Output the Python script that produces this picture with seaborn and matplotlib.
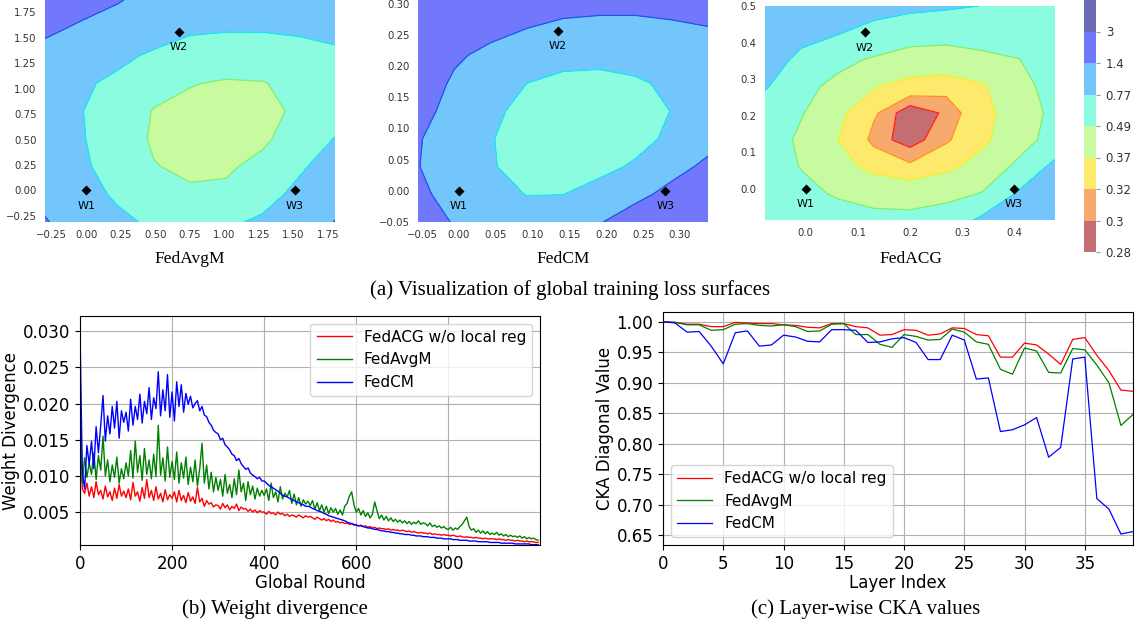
import numpy as np
import matplotlib
matplotlib.use("Agg")
import matplotlib.pyplot as plt
import seaborn as sns

# ---------------- data ----------------
loss_levels = [0.28, 0.30, 0.32, 0.37, 0.49, 0.77, 1.4, 3.0, 10.0]
level_labels = ["0.28", "0.3", "0.32", "0.37", "0.49", "0.77", "1.4", "3"]

# FedAvgM loss surface (rows: y from bottom to top, cols: x from left to right)
avgm_xrange = [-0.30, 1.80]
avgm_yrange = [-0.31, 1.87]
avgm_loss = [
    [1.45, 1.05, 0.84, 0.72, 0.62, 0.72, 0.82, 1.05, 1.42],
    [1.20, 0.90, 0.72, 0.57, 0.52, 0.53, 0.65, 0.85, 1.10],
    [1.05, 0.81, 0.67, 0.50, 0.45, 0.46, 0.55, 0.72, 0.92],
    [0.98, 0.79, 0.63, 0.46, 0.41, 0.40, 0.45, 0.60, 0.78],
    [0.95, 0.78, 0.62, 0.48, 0.44, 0.42, 0.44, 0.52, 0.62],
    [0.98, 0.82, 0.70, 0.57, 0.50, 0.47, 0.48, 0.55, 0.64],
    [1.15, 1.00, 0.85, 0.72, 0.64, 0.61, 0.62, 0.66, 0.72],
    [1.56, 1.30, 1.10, 0.95, 0.82, 0.80, 0.80, 0.82, 0.85],
    [2.00, 1.70, 1.45, 1.16, 1.05, 1.00, 0.98, 0.98, 1.00],
]
avgm_wx = [0.0, 0.67, 1.51]
avgm_wy = [0.0, 1.56, 0.0]

# FedCM loss surface
cm_xrange = [-0.0554, 0.338]
cm_yrange = [-0.05, 0.306]
cm_loss = [
    [1.80, 1.35, 1.10, 0.95, 1.05, 1.35, 1.80, 2.30, 2.70],
    [1.55, 1.15, 0.90, 0.76, 0.765, 0.92, 1.20, 1.62, 2.00],
    [1.42, 1.05, 0.80, 0.64, 0.60, 0.66, 0.82, 1.15, 1.55],
    [1.45, 1.05, 0.79, 0.62, 0.56, 0.56, 0.64, 0.85, 1.15],
    [1.65, 1.15, 0.85, 0.66, 0.58, 0.56, 0.60, 0.78, 0.95],
    [1.80, 1.30, 0.95, 0.77, 0.66, 0.64, 0.72, 0.84, 0.96],
    [2.00, 1.50, 1.23, 1.00, 0.92, 0.90, 0.92, 0.98, 1.08],
    [2.20, 1.85, 1.60, 1.41, 1.25, 1.20, 1.20, 1.28, 1.38],
    [2.60, 2.30, 2.00, 1.80, 1.70, 1.65, 1.65, 1.70, 1.80],
]
cm_wx = [0.0, 0.134, 0.280]
cm_wy = [0.0, 0.257, 0.0]

# FedACG loss surface
acg_xrange = [-0.078, 0.477]
acg_yrange = [-0.085, 0.50]
acg_loss = [
    [0.753, 0.649, 0.578, 0.541, 0.537, 0.580, 0.830, 1.000, 1.200],
    [0.654, 0.544, 0.467, 0.424, 0.414, 0.438, 0.496, 0.800, 1.050],
    [0.597, 0.481, 0.398, 0.349, 0.325, 0.351, 0.403, 0.520, 0.850],
    [0.582, 0.460, 0.371, 0.310, 0.290, 0.315, 0.352, 0.431, 0.545],
    [0.609, 0.500, 0.386, 0.325, 0.285, 0.304, 0.343, 0.417, 0.524],
    [0.800, 0.544, 0.443, 0.376, 0.340, 0.330, 0.360, 0.443, 0.544],
    [1.000, 0.660, 0.542, 0.469, 0.429, 0.423, 0.451, 0.485, 0.608],
    [1.100, 0.920, 0.790, 0.660, 0.558, 0.546, 0.568, 0.624, 0.713],
    [1.250, 1.100, 0.980, 0.900, 0.850, 0.810, 0.765, 0.720, 0.700],
]
acg_wx = [0.0, 0.113, 0.398]
acg_wy = [0.0, 0.428, 0.0]

w_labels = ["W1", "W2", "W3"]

# Weight divergence, sampled every 5 global rounds
rounds = list(range(0, 1000, 5))
wd_fedacg = [
    0.0215, 0.0082, 0.0076, 0.0090, 0.0072, 0.0085, 0.0070, 0.0092, 0.0074, 0.0080, 0.0068, 0.0086, 0.0071, 0.0078, 0.0066, 0.0083, 0.0069, 0.0088, 0.0072, 0.0079,
    0.0070, 0.0082, 0.0067, 0.0091, 0.0072, 0.0078, 0.0065, 0.0084, 0.0069, 0.0095, 0.0070, 0.0080, 0.0066, 0.0085, 0.0068, 0.0076, 0.0064, 0.0081, 0.0067, 0.0074,
    0.0069, 0.0078, 0.0064, 0.0080, 0.0066, 0.0073, 0.0063, 0.0077, 0.0065, 0.0071, 0.0062, 0.0084, 0.0064, 0.0069, 0.0058, 0.0066, 0.0061, 0.0063, 0.0057, 0.0060,
    0.0059, 0.0054, 0.0062, 0.0056, 0.0060, 0.0053, 0.0058, 0.0055, 0.0061, 0.0052, 0.0057, 0.0054, 0.0055, 0.0051, 0.0054, 0.0050, 0.0053, 0.0049, 0.0052, 0.0050,
    0.0050, 0.0047, 0.0051, 0.0048, 0.0049, 0.0046, 0.0050, 0.0047, 0.0048, 0.0045, 0.0047, 0.0044, 0.0046, 0.0045, 0.0043, 0.0046, 0.0044, 0.0042, 0.0045, 0.0043,
    0.0044, 0.0042, 0.0040, 0.0043, 0.0041, 0.0039, 0.0041, 0.0038, 0.0040, 0.0037, 0.0039, 0.0036, 0.0037, 0.0035, 0.0036, 0.0034, 0.0035, 0.0033, 0.0034, 0.0032,
    0.0032, 0.0031, 0.0032, 0.0030, 0.0031, 0.0029, 0.0030, 0.0028, 0.0029, 0.0027, 0.0028, 0.0027, 0.0027, 0.0026, 0.0027, 0.0025, 0.0026, 0.0025, 0.0025, 0.0024,
    0.0025, 0.0024, 0.0023, 0.0024, 0.0022, 0.0023, 0.0022, 0.0021, 0.0022, 0.0021, 0.0021, 0.0020, 0.0021, 0.0019, 0.0020, 0.0019, 0.0019, 0.0018, 0.0019, 0.0018,
    0.0018, 0.0017, 0.0018, 0.0017, 0.0016, 0.0017, 0.0016, 0.0015, 0.0016, 0.0015, 0.0015, 0.0014, 0.0015, 0.0014, 0.0014, 0.0013, 0.0014, 0.0013, 0.0013, 0.0013,
    0.0013, 0.0012, 0.0013, 0.0012, 0.0012, 0.0011, 0.0012, 0.0011, 0.0011, 0.0010, 0.0011, 0.0010, 0.0010, 0.0009, 0.0010, 0.0009, 0.0009, 0.0009, 0.0008, 0.0008,
]
wd_fedavgm = [
    0.0200, 0.0090, 0.0125, 0.0098, 0.0118, 0.0102, 0.0132, 0.0095, 0.0128, 0.0108, 0.0155, 0.0100, 0.0122, 0.0092, 0.0115, 0.0098, 0.0126, 0.0090, 0.0110, 0.0096,
    0.0118, 0.0100, 0.0135, 0.0097, 0.0148, 0.0105, 0.0128, 0.0094, 0.0138, 0.0102, 0.0122, 0.0096, 0.0130, 0.0099, 0.0170, 0.0101, 0.0125, 0.0093, 0.0140, 0.0098,
    0.0120, 0.0095, 0.0133, 0.0090, 0.0118, 0.0097, 0.0126, 0.0088, 0.0112, 0.0092, 0.0122, 0.0086, 0.0110, 0.0145, 0.0090, 0.0115, 0.0082, 0.0105, 0.0078, 0.0098,
    0.0080, 0.0095, 0.0072, 0.0102, 0.0076, 0.0088, 0.0070, 0.0096, 0.0074, 0.0108, 0.0078, 0.0090, 0.0066, 0.0092, 0.0074, 0.0086, 0.0068, 0.0083, 0.0072, 0.0080,
    0.0073, 0.0082, 0.0066, 0.0090, 0.0070, 0.0078, 0.0064, 0.0085, 0.0068, 0.0076, 0.0071, 0.0080, 0.0062, 0.0075, 0.0060, 0.0070, 0.0058, 0.0067, 0.0061, 0.0065,
    0.0059, 0.0066, 0.0054, 0.0063, 0.0052, 0.0060, 0.0050, 0.0058, 0.0048, 0.0056, 0.0050, 0.0055, 0.0047, 0.0053, 0.0046, 0.0058, 0.0062, 0.0072, 0.0078, 0.0060,
    0.0050, 0.0055, 0.0046, 0.0052, 0.0044, 0.0049, 0.0042, 0.0047, 0.0064, 0.0052, 0.0041, 0.0046, 0.0039, 0.0044, 0.0038, 0.0042, 0.0037, 0.0040, 0.0036, 0.0039,
    0.0035, 0.0038, 0.0034, 0.0037, 0.0033, 0.0036, 0.0034, 0.0038, 0.0033, 0.0035, 0.0034, 0.0031, 0.0035, 0.0030, 0.0032, 0.0029, 0.0031, 0.0028, 0.0030, 0.0027,
    0.0026, 0.0029, 0.0025, 0.0028, 0.0026, 0.0030, 0.0033, 0.0038, 0.0043, 0.0030, 0.0025, 0.0027, 0.0022, 0.0025, 0.0021, 0.0024, 0.0020, 0.0023, 0.0019, 0.0021,
    0.0019, 0.0022, 0.0018, 0.0020, 0.0017, 0.0019, 0.0016, 0.0018, 0.0016, 0.0017, 0.0015, 0.0017, 0.0014, 0.0016, 0.0013, 0.0015, 0.0013, 0.0014, 0.0012, 0.0011,
]
wd_fedcm = [
    0.0300, 0.0105, 0.0082, 0.0142, 0.0116, 0.0148, 0.0110, 0.0168, 0.0132, 0.0170, 0.0211, 0.0148, 0.0183, 0.0158, 0.0196, 0.0166, 0.0203, 0.0152, 0.0190, 0.0174,
    0.0188, 0.0162, 0.0206, 0.0170, 0.0196, 0.0178, 0.0213, 0.0173, 0.0203, 0.0186, 0.0222, 0.0178, 0.0208, 0.0193, 0.0244, 0.0183, 0.0219, 0.0190, 0.0240, 0.0181,
    0.0216, 0.0176, 0.0230, 0.0196, 0.0226, 0.0188, 0.0214, 0.0199, 0.0210, 0.0194, 0.0200, 0.0204, 0.0190, 0.0196, 0.0184, 0.0182, 0.0174, 0.0170, 0.0163, 0.0160,
    0.0158, 0.0150, 0.0152, 0.0143, 0.0140, 0.0136, 0.0130, 0.0128, 0.0121, 0.0124, 0.0117, 0.0113, 0.0109, 0.0111, 0.0104, 0.0101, 0.0099, 0.0096, 0.0098, 0.0093,
    0.0093, 0.0090, 0.0087, 0.0085, 0.0083, 0.0081, 0.0079, 0.0076, 0.0073, 0.0072, 0.0071, 0.0069, 0.0067, 0.0066, 0.0064, 0.0063, 0.0061, 0.0060, 0.0058, 0.0058,
    0.0057, 0.0055, 0.0054, 0.0052, 0.0051, 0.0050, 0.0048, 0.0047, 0.0045, 0.0044, 0.0043, 0.0042, 0.0041, 0.0040, 0.0039, 0.0038, 0.0036, 0.0035, 0.0034, 0.0033,
    0.0032, 0.0031, 0.0031, 0.0030, 0.0029, 0.0028, 0.0028, 0.0027, 0.0026, 0.0026, 0.0025, 0.0024, 0.0024, 0.0023, 0.0023, 0.0022, 0.0022, 0.0021, 0.0021, 0.0020,
    0.0020, 0.0019, 0.0019, 0.0019, 0.0018, 0.0018, 0.0017, 0.0017, 0.0017, 0.0016, 0.0016, 0.0016, 0.0015, 0.0015, 0.0015, 0.0014, 0.0014, 0.0014, 0.0013, 0.0013,
    0.0013, 0.0013, 0.0012, 0.0012, 0.0012, 0.0011, 0.0011, 0.0011, 0.0011, 0.0010, 0.0010, 0.0010, 0.0010, 0.0009, 0.0009, 0.0009, 0.0009, 0.0009, 0.0008, 0.0008,
    0.0008, 0.0008, 0.0008, 0.0007, 0.0007, 0.0007, 0.0007, 0.0007, 0.0007, 0.0006, 0.0006, 0.0006, 0.0006, 0.0006, 0.0006, 0.0006, 0.0005, 0.0005, 0.0005, 0.0005,
]

# Layer-wise CKA diagonal values
layers = list(range(40))
cka_fedacg = [1.000, 0.999, 0.996, 0.996, 0.992, 0.992, 0.999, 0.998, 0.997, 0.997,
              0.995, 0.994, 0.991, 0.990, 0.997, 0.997, 0.992, 0.990, 0.978, 0.979,
              0.987, 0.986, 0.978, 0.980, 0.990, 0.989, 0.979, 0.977, 0.942, 0.942,
              0.965, 0.962, 0.947, 0.930, 0.971, 0.974, 0.945, 0.920, 0.888, 0.886]
cka_fedavgm = [1.000, 0.999, 0.995, 0.995, 0.986, 0.987, 0.996, 0.997, 0.994, 0.993,
               0.995, 0.992, 0.984, 0.985, 0.996, 0.997, 0.979, 0.979, 0.963, 0.958,
               0.979, 0.976, 0.970, 0.971, 0.988, 0.983, 0.967, 0.963, 0.922, 0.914,
               0.957, 0.952, 0.917, 0.916, 0.956, 0.954, 0.929, 0.900, 0.830, 0.848]
cka_fedcm = [1.000, 0.998, 0.983, 0.984, 0.960, 0.931, 0.982, 0.985, 0.960, 0.962,
             0.978, 0.975, 0.968, 0.967, 0.987, 0.987, 0.986, 0.966, 0.967, 0.972,
             0.974, 0.966, 0.938, 0.938, 0.978, 0.970, 0.906, 0.908, 0.820, 0.823,
             0.831, 0.843, 0.778, 0.794, 0.939, 0.942, 0.710, 0.693, 0.652, 0.656]

series_names = ["FedACG w/o local reg", "FedAvgM", "FedCM"]
series_colors = ["red", "green", "blue"]

# ---------------- styling ----------------
band_colors = ["#c46e72", "#f8a96e", "#fde96c", "#c8fba0",
               "#8cfce0", "#73c6fc", "#7278fc", "#6c6cb4"]
line_colors = ["#ff1a1a", "#ff8c1a", "#f2f22a", "#86ee6a", "#19e6f0", "#1f55e8"]

plt.rcParams["font.family"] = ["DejaVu Sans"]
serif = ["Liberation Serif", "DejaVu Serif"]

W, H = 1136, 625
fig = plt.figure(figsize=(W / 100, H / 100), dpi=100)


def rect(x0, y0, x1, y1):
    return [x0 / W, 1 - y1 / H, (x1 - x0) / W, (y1 - y0) / H]


top_panels = [
    dict(r=rect(45, 0, 335, 222), xr=avgm_xrange, yr=avgm_yrange, z=avgm_loss,
         wx=avgm_wx, wy=avgm_wy, name="FedAvgM", cx=190,
         xt=np.arange(-0.25, 1.80, 0.25), yt=np.arange(-0.25, 1.80, 0.25), fmt="{:.2f}"),
    dict(r=rect(418, 0, 708, 222), xr=cm_xrange, yr=cm_yrange, z=cm_loss,
         wx=cm_wx, wy=cm_wy, name="FedCM", cx=563,
         xt=np.arange(-0.05, 0.31, 0.05), yt=np.arange(-0.05, 0.31, 0.05), fmt="{:.2f}"),
    dict(r=rect(765, 6, 1055, 220), xr=acg_xrange, yr=acg_yrange, z=acg_loss,
         wx=acg_wx, wy=acg_wy, name="FedACG", cx=911,
         xt=np.arange(0.0, 0.41, 0.1), yt=np.arange(0.0, 0.51, 0.1), fmt="{:.1f}"),
]

last_cs = None
for p in top_panels:
    ax = fig.add_axes(p["r"])
    z = np.array(p["z"])
    gx = np.linspace(p["xr"][0], p["xr"][1], z.shape[1])
    gy = np.linspace(p["yr"][0], p["yr"][1], z.shape[0])
    cs = ax.contourf(gx, gy, z, levels=loss_levels, colors=band_colors)
    ax.contour(gx, gy, z, levels=loss_levels[1:7], colors=line_colors, linewidths=0.9)
    last_cs = cs
    sns.scatterplot(x=p["wx"], y=p["wy"], marker="D", color="black", s=26,
                    edgecolor="black", linewidth=0, ax=ax, zorder=5)
    for lx, ly, lab in zip(p["wx"], p["wy"], w_labels):
        ax.annotate(lab, (lx, ly), xytext=(0, -7.5), textcoords="offset points",
                    ha="center", va="top", fontsize=8, color="black")
    ax.set_xlim(p["xr"])
    ax.set_ylim(p["yr"])
    ax.set_xticks(p["xt"])
    ax.set_yticks(p["yt"])
    ax.set_xticklabels([p["fmt"].format(v).replace("-", "\u2212") for v in p["xt"]])
    ax.set_yticklabels([p["fmt"].format(v).replace("-", "\u2212") for v in p["yt"]])
    ax.tick_params(length=0, pad=6, labelsize=7.3, colors="#333333")
    for s in ax.spines.values():
        s.set_visible(False)
    fig.text(p["cx"] / W, 1 - 259 / H, p["name"], ha="center", va="center",
             family=serif, fontsize=12.5)

cax = fig.add_axes(rect(1084, 0, 1096, 252))
cb = fig.colorbar(last_cs, cax=cax, ticks=loss_levels[:-1])
cb.ax.set_yticklabels(level_labels)
cb.outline.set_visible(False)
cax.tick_params(length=3, width=0.8, color="#999999", labelsize=8.5,
                labelcolor="#333333", pad=4)

fig.text(570 / W, 1 - 290 / H, "(a) Visualization of global training loss surfaces",
         ha="center", va="center", family=serif, fontsize=15)

# ---------------- (b) weight divergence ----------------
axb = fig.add_axes(rect(80, 316, 540, 545))
for vals, name, col in zip([wd_fedacg, wd_fedavgm, wd_fedcm], series_names, series_colors):
    sns.lineplot(x=rounds, y=vals, color=col, linewidth=1.0, label=name, ax=axb)
axb.set_xlim(0, 999)
axb.set_ylim(0.00045, 0.0321)
axb.set_xticks([0, 200, 400, 600, 800])
axb.set_yticks([0.005, 0.010, 0.015, 0.020, 0.025, 0.030])
axb.set_yticklabels(["0.005", "0.010", "0.015", "0.020", "0.025", "0.030"])
axb.set_xlabel("Global Round", fontsize=12, labelpad=1)
axb.set_ylabel("Weight Divergence", fontsize=12, labelpad=2)
axb.legend(loc="upper right", fontsize=11, handlelength=2.3)

# ---------------- (c) CKA ----------------
axc = fig.add_axes(rect(663, 312, 1133, 545))
for vals, name, col in zip([cka_fedacg, cka_fedavgm, cka_fedcm], series_names, series_colors):
    sns.lineplot(x=layers, y=vals, color=col, linewidth=0.9, label=name, ax=axc)
axc.set_xlim(0, 39)
axc.set_ylim(0.634, 1.016)
axc.set_xticks([0, 5, 10, 15, 20, 25, 30, 35])
axc.set_yticks([0.65, 0.70, 0.75, 0.80, 0.85, 0.90, 0.95, 1.00])
axc.set_yticklabels(["0.65", "0.70", "0.75", "0.80", "0.85", "0.90", "0.95", "1.00"])
axc.set_xlabel("Layer Index", fontsize=12, labelpad=1)
axc.set_ylabel("CKA Diagonal Value", fontsize=12, labelpad=2)
axc.legend(loc="lower left", fontsize=11, handlelength=2.3)

for ax in (axb, axc):
    ax.grid(True, color="#b0b0b0", linewidth=0.8)
    ax.set_axisbelow(True)
    ax.tick_params(labelsize=12, length=3.5, width=0.8, color="black")
    for s in ax.spines.values():
        s.set_color("black")
        s.set_linewidth(0.8)

fig.text(275 / W, 1 - 609 / H, "(b) Weight divergence", ha="center", va="center",
         family=serif, fontsize=15)
fig.text(866 / W, 1 - 609 / H, "(c) Layer-wise CKA values", ha="center", va="center",
         family=serif, fontsize=15)

fig.savefig("out.png", dpi=100)
